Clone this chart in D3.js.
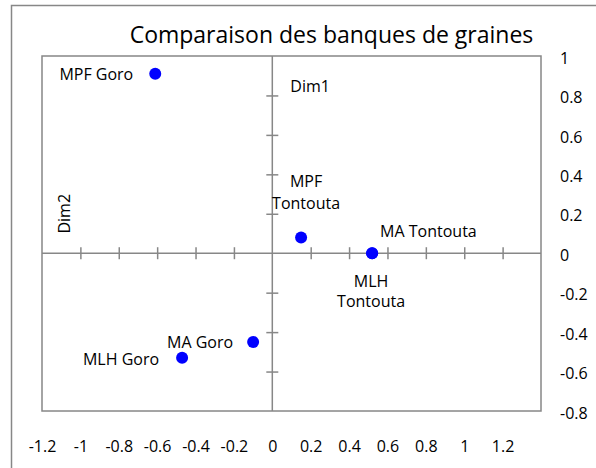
<!DOCTYPE html>
<html>
<head>
<meta charset="utf-8">
<script src="https://cdn.jsdelivr.net/npm/d3@7"></script>
<style>
  body { margin: 0; background: #fff; }
  svg text { font-family: "Open Sans", sans-serif; fill: #000; }
</style>
</head>
<body>
<svg id="chart" width="596" height="468"></svg>
<script>
// seed bank comparison - PCA style scatter
var names = ['MPF Goro', 'MA Goro', 'MLH Goro', 'MPF Tontouta', 'MA Tontouta', 'MLH Tontouta'];
var dim1 = [-0.61, -0.10, -0.47, 0.15, 0.52, 0.52];
var dim2 = [0.91, -0.45, -0.53, 0.08, 0.00, 0.00];

var x_ticks = [-1.2, -1, -0.8, -0.6, -0.4, -0.2, 0, 0.2, 0.4, 0.6, 0.8, 1, 1.2];
var y_ticks = [1, 0.8, 0.6, 0.4, 0.2, 0, -0.2, -0.4, -0.6, -0.8];

// where each label sits around its point (px), lines split on \n
var label_pos = [
    {anchor: 'end', dx: -22, dy: [6]},
    {anchor: 'end', dx: -20, dy: [6]},
    {anchor: 'end', dx: -23, dy: [7]},
    {anchor: 'middle', dx: 5, dy: [-50, -28]},
    {anchor: 'start', dx: 8, dy: [-16]},
    {anchor: 'middle', dx: -1, dy: [34, 54]}
];
var label_text = ['MPF Goro', 'MA Goro', 'MLH Goro', 'MPF\nTontouta', 'MA Tontouta', 'MLH\nTontouta'];

var svg = d3.select('#chart');
var grey = '#878787';

var x = d3.scaleLinear().domain([-1.2, 1.4]).range([42, 541]);
var y = d3.scaleLinear().domain([-0.8, 1]).range([411, 56]);

// plain hyphen minus, like the original
var fmt = function(d) { return String(+d.toFixed(1)); };

// outer chart frame (runs off the picture on the right / bottom)
svg.append('rect')
    .attr('x', 11.5).attr('y', 5.5)
    .attr('width', 660).attr('height', 500)
    .attr('fill', 'none')
    .attr('stroke', grey)
    .attr('stroke-width', 1.5);

svg.append('text')
    .attr('x', 331.5).attr('y', 43)
    .attr('text-anchor', 'middle')
    .style('font-size', '23px')
    .text('Comparaison des banques de graines');

// plot box
svg.append('rect')
    .attr('x', x(-1.2)).attr('y', y(1))
    .attr('width', x(1.4) - x(-1.2))
    .attr('height', y(-0.8) - y(1))
    .attr('fill', 'none')
    .attr('stroke', grey)
    .attr('stroke-width', 1.5);

// cross ticks on the horizontal axis
var x_inner = x_ticks.filter(function(v) { return v != -1.2 && v != 0; });
svg.append('g')
    .attr('transform', 'translate(0,' + (y(0) - 6) + ')')
    .call(d3.axisBottom(x).tickValues(x_inner).tickSize(12).tickFormat(''))
    .call(function(g) {
        g.select('.domain').remove();
        g.selectAll('line').attr('stroke', grey).attr('stroke-width', 1.5);
    });

var y_inner = y_ticks.filter(function(v) { return v != 1 && v != 0 && v != -0.8; });
svg.append('g')
    .attr('transform', 'translate(' + (x(0) - 6) + ',0)')
    .call(d3.axisRight(y).tickValues(y_inner).tickSize(12).tickFormat(''))
    .call(function(g) {
        g.select('.domain').remove();
        g.selectAll('line').attr('stroke', grey).attr('stroke-width', 1.5);
    });

// zero lines
svg.append('line')
    .attr('x1', x(-1.2)).attr('x2', x(1.4))
    .attr('y1', y(0)).attr('y2', y(0))
    .attr('stroke', grey).attr('stroke-width', 1.5);
svg.append('line')
    .attr('x1', x(0)).attr('x2', x(0))
    .attr('y1', y(1)).attr('y2', y(-0.8))
    .attr('stroke', grey).attr('stroke-width', 1.5);

// tick labels, Excel puts them low / right
svg.append('g')
    .attr('transform', 'translate(0,452)')
    .call(d3.axisBottom(x).tickValues(x_ticks).tickSize(0).tickPadding(0).tickFormat(fmt))
    .call(function(g) {
        g.select('.domain').remove();
        g.selectAll('text').attr('dy', null).style('font-size', '16px');
    });

svg.append('g')
    .attr('transform', 'translate(560,2)')
    .call(d3.axisRight(y).tickValues(y_ticks).tickSize(0).tickPadding(0).tickFormat(fmt))
    .call(function(g) {
        g.select('.domain').remove();
        g.selectAll('text').attr('text-anchor', 'start').style('font-size', '16px');
    });

// axis titles
svg.append('text')
    .attr('x', x(0) + 18).attr('y', y(0.85) + 6)
    .style('font-size', '16px')
    .text('Dim1');
svg.append('text')
    .attr('transform', 'translate(' + (x(-1.2) + 22) + ',' + y(0.2) + ') rotate(-90)')
    .attr('text-anchor', 'middle')
    .attr('dominant-baseline', 'central')
    .style('font-size', '16px')
    .text('Dim2');

// points
svg.append('g')
    .selectAll('circle')
    .data(names)
    .enter()
    .append('circle')
    .attr('cx', function(d, i) { return x(dim1[i]); })
    .attr('cy', function(d, i) { return y(dim2[i]); })
    .attr('r', 6)
    .attr('fill', '#0000ff');

// point labels
var lbl = svg.append('g')
    .selectAll('text')
    .data(names)
    .enter()
    .append('text')
    .attr('text-anchor', function(d, i) { return label_pos[i].anchor; })
    .style('font-size', '16px');

lbl.each(function(d, i) {
    var t = d3.select(this);
    var px = x(dim1[i]) + label_pos[i].dx;
    var py = y(dim2[i]);
    label_text[i].split('\n').forEach(function(line, k) {
        t.append('tspan')
            .attr('x', px)
            .attr('y', py + label_pos[i].dy[k])
            .text(line);
    });
});
</script>
</body>
</html>
